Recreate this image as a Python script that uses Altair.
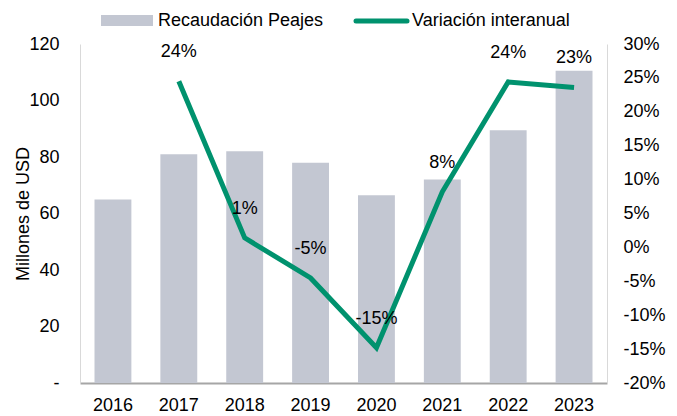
import altair as alt
import pandas as pd

years = ["2016", "2017", "2018", "2019", "2020", "2021", "2022", "2023"]
recaudacion = [65, 81, 82, 78, 66.5, 72, 89.5, 110.5]
variacion = [None, 24.5, 1.4, -4.5, -14.8, 8.2, 24.4, 23.6]
etiquetas = ["", "24%", "1%", "-5%", "-15%", "8%", "24%", "23%"]

left_ticks = [0, 20, 40, 60, 80, 100, 120]
right_ticks = [-20, -15, -10, -5, 0, 5, 10, 15, 20, 25, 30]

df = pd.DataFrame({"year": years, "rec": recaudacion, "var": variacion, "lab": etiquetas})

FONT = "Liberation Sans"
GREEN = "#00926E"
GRAY = "#C3C7D2"

x_enc = alt.X("year:N", scale=alt.Scale(paddingInner=0.44, paddingOuter=0.22),
              axis=alt.Axis(title=None, labelAngle=0, ticks=False, labelPadding=13,
                            labelFontSize=18, labelFont=FONT, labelColor="#000",
                            domainColor="#A6A6A6", domainWidth=2, grid=False))

bars = alt.Chart(df).mark_bar(color=GRAY).encode(
    x=x_enc,
    y=alt.Y("rec:Q", scale=alt.Scale(domain=[0, 120], nice=False),
            axis=alt.Axis(title="Millones de USD", values=left_ticks, ticks=False, grid=False,
                          labelPadding=21, labelFontSize=18, labelFont=FONT, labelColor="#000",
                          labelExpr="datum.value == 0 ? '-\u00a0\u00a0' : datum.label",
                          labelOverlap=False,
                          titleFont=FONT, titleFontSize=18, titleFontWeight="normal",
                          titleColor="#000", titlePadding=-4,
                          domainColor="#D9D9D9", domainWidth=1)),
)

right_axis = alt.Axis(title=None, orient="right", values=right_ticks, ticks=False, grid=False,
                      labelPadding=16, labelFontSize=18, labelFont=FONT, labelColor="#000",
                      labelExpr="datum.value + '%'", labelOverlap=False, tickCount=11,
                      domainColor="#D9D9D9", domainWidth=1)
right_scale = alt.Scale(domain=[-20, 30], nice=False)

line = alt.Chart(df).mark_line(color=GREEN, strokeWidth=5).encode(
    x=alt.X("year:N"),
    y=alt.Y("var:Q", scale=right_scale, axis=right_axis),
)

text = alt.Chart(df).mark_text(dy=-29, fontSize=18, font=FONT, color="#000").encode(
    x=alt.X("year:N"),
    y=alt.Y("var:Q", scale=right_scale, axis=right_axis),
    text="lab:N",
)

right = alt.layer(line, text)

one = alt.Data(values=[{}])
leg_rect = alt.Chart(one).mark_rect(color=GRAY).encode(
    x=alt.value(21), x2=alt.value(73), y=alt.value(-29), y2=alt.value(-18))
leg_t1 = alt.Chart(one).mark_text(align="left", baseline="middle", fontSize=18, font=FONT, color="#000").encode(
    x=alt.value(78), y=alt.value(-23), text=alt.value("Recaudación Peajes"))
leg_line = alt.Chart(one).mark_rule(color=GREEN, strokeWidth=5, strokeCap="round").encode(
    x=alt.value(276), x2=alt.value(327), y=alt.value(-23))
leg_t2 = alt.Chart(one).mark_text(align="left", baseline="middle", fontSize=18, font=FONT, color="#000").encode(
    x=alt.value(332), y=alt.value(-23), text=alt.value("Variación interanual"))

chart = alt.layer(bars, right, leg_rect, leg_t1, leg_line, leg_t2).resolve_scale(
    y="independent"
).properties(
    width=527, height=339,
    autosize=alt.AutoSizeParams(type="none"),
    padding={"left": 72, "top": 36, "right": 62, "bottom": 40},
).configure_view(stroke=None)

chart.save("out.html", embed_options={"renderer": "svg", "actions": False})
